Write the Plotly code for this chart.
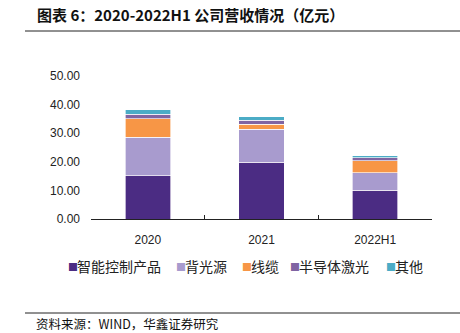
import plotly.graph_objects as go

# Revenue by product line, 100 million CNY
years = ["2020", "2021", "2022H1"]
smart_control = [15.1, 19.8, 10.0]
backlight = [13.4, 11.5, 6.1]
cable = [6.5, 1.9, 4.2]
laser = [1.6, 1.3, 1.2]
other = [1.6, 1.3, 0.6]

series_names = ["智能控制产品", "背光源", "线缆", "半导体激光", "其他"]
series_values = [smart_control, backlight, cable, laser, other]
colors = ["#4B2C83", "#A89BCE", "#F79646", "#8064A2", "#4BACC6"]

W, H = 460, 333
L, R, T, B = 91, 28, 76, 114
PW, PH = W - L - R, H - T - B


def px_x(x):
    return (x - L) / PW


def px_y(y):
    return 1 - (y - T) / PH


fig = go.Figure()
for name, vals, c in zip(series_names, series_values, colors):
    fig.add_trace(go.Bar(
        x=years, y=vals, name=name,
        marker=dict(color=c, line=dict(color="rgba(255,255,255,0.8)", width=0.8)),
    ))

cjk = "Noto Sans CJK SC"
num_font = "Liberation Sans"

fig.update_layout(
    width=W, height=H,
    margin=dict(l=L, r=R, t=T, b=B),
    barmode="stack",
    bargap=0.6,
    plot_bgcolor="white",
    paper_bgcolor="white",
    showlegend=False,
    xaxis=dict(
        type="category",
        showline=True, linecolor="#222", linewidth=1,
        ticks="inside", ticklen=4, tickcolor="#222",
        tickson="boundaries",
        tickfont=dict(family=num_font, size=12, color="#222"),
        ticklabelstandoff=10,
        showgrid=False,
    ),
    yaxis=dict(
        range=[0, 50],
        tickvals=[0, 10, 20, 30, 40, 50],
        tickformat=".2f",
        showgrid=False, showline=False, zeroline=False,
        tickfont=dict(family=num_font, size=12, color="#222"),
        ticklabelstandoff=10,
    ),
    font=dict(family=cjk),
)

# Legend row: coloured square followed by the series name
legend_y = px_y(266)
square_x = [66, 174, 240, 288, 384]
for name, c, sx in zip(series_names, colors, square_x):
    fig.add_annotation(
        text="■", xref="paper", yref="paper",
        x=px_x(sx), xanchor="left", y=legend_y, yanchor="middle",
        showarrow=False, font=dict(family=cjk, size=10, color=c),
    )
    fig.add_annotation(
        text=name, xref="paper", yref="paper",
        x=px_x(sx + 9), xanchor="left", y=legend_y, yanchor="middle",
        showarrow=False, font=dict(family=cjk, size=14, color="#222"),
    )

fig.add_annotation(
    text="<b>图表 6：2020-2022H1 公司营收情况（亿元）</b>",
    xref="paper", yref="paper",
    x=px_x(35), xanchor="left",
    y=px_y(15), yanchor="middle",
    showarrow=False,
    font=dict(family=cjk, size=15, color="#111"),
)
fig.add_annotation(
    text="资料来源：WIND，华鑫证券研究",
    xref="paper", yref="paper",
    x=px_x(34), xanchor="left",
    y=px_y(323), yanchor="middle",
    showarrow=False,
    font=dict(family=cjk, size=12.5, color="#111"),
)

for ypix in (31, 313):
    fig.add_shape(
        type="line", xref="paper", yref="paper",
        x0=px_x(25), x1=px_x(W),
        y0=px_y(ypix), y1=px_y(ypix),
        line=dict(color="#222", width=1),
    )

fig.write_html("out.html")
